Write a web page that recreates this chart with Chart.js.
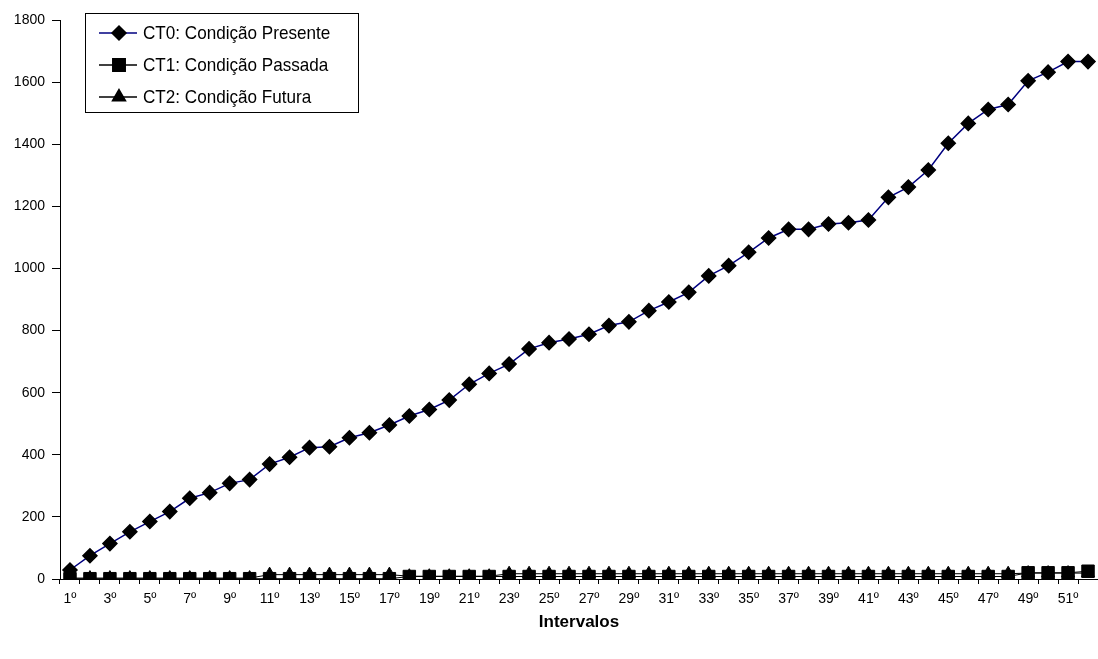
<!DOCTYPE html>
<html>
<head>
<meta charset="utf-8">
<script src="https://cdn.jsdelivr.net/npm/chart.js@4/dist/chart.umd.min.js"></script>
<style>
    html, body { margin: 0; padding: 0; background: #fff; overflow: hidden; }
    #wrap { width: 1098px; height: 659px; }
</style>
</head>
<body>
<div id="wrap"><canvas id="chart"></canvas></div>
<script>
const intervalos = ['1º', '2º', '3º', '4º', '5º', '6º', '7º', '8º', '9º', '10º',
    '11º', '12º', '13º', '14º', '15º', '16º', '17º', '18º', '19º', '20º',
    '21º', '22º', '23º', '24º', '25º', '26º', '27º', '28º', '29º', '30º',
    '31º', '32º', '33º', '34º', '35º', '36º', '37º', '38º', '39º', '40º',
    '41º', '42º', '43º', '44º', '45º', '46º', '47º', '48º', '49º', '50º',
    '51º', '52º'];

// CT0: Condição Presente
const ct0 = [29, 75, 114, 152, 185, 217, 260, 278, 308, 320,
    370, 392, 423, 426, 455, 471, 496, 525, 546, 576,
    627, 662, 692, 741, 761, 773, 788, 816, 828, 864,
    892, 923, 976, 1009, 1052, 1098, 1126, 1126, 1143, 1147,
    1156, 1229, 1262, 1317, 1403, 1467, 1512, 1528, 1604, 1632,
    1666, 1666];

// CT1: Condição Passada
const ct1 = [1, 1, 1, 1, 1, 1, 1, 1, 1, 1,
    1, 1, 1, 1, 1, 1, 1, 8, 8, 8,
    8, 8, 8, 8, 8, 8, 8, 8, 8, 8,
    8, 8, 8, 8, 8, 8, 8, 8, 8, 8,
    8, 8, 8, 8, 8, 8, 8, 8, 20, 20,
    20, 25];

// CT2: Condição Futura
const ct2 = [3, 3, 3, 3, 3, 3, 3, 3, 3, 3,
    14, 14, 14, 14, 14, 14, 14, 9, 9, 9,
    9, 9, 17, 17, 17, 17, 17, 17, 17, 17,
    17, 17, 17, 17, 17, 17, 17, 17, 17, 17,
    17, 17, 17, 17, 17, 17, 17, 17, 19, 19,
    19, 19];

const seriesNames = ['CT0: Condição Presente', 'CT1: Condição Passada', 'CT2: Condição Futura'];
const yTicks = [0, 200, 400, 600, 800, 1000, 1200, 1400, 1600, 1800];

const FONT = "'Liberation Sans', Arial, sans-serif";

// legend drawn inside the plot, boxed, like the original
const boxLegend = {
    id: 'boxLegend',
    afterDraw(chart) {
        const ctx = chart.ctx;
        const x = 85, y = 13, w = 273, h = 99;
        ctx.save();
        ctx.fillStyle = '#fff';
        ctx.fillRect(x, y, w, h);
        ctx.strokeStyle = '#000';
        ctx.lineWidth = 1;
        ctx.strokeRect(x + 0.5, y + 0.5, w, h);

        chart.data.datasets.forEach((ds, i) => {
            const rowY = 33 + i * 32;
            ctx.strokeStyle = ds.borderColor;
            ctx.lineWidth = 1.5;
            ctx.beginPath();
            ctx.moveTo(99, rowY);
            ctx.lineTo(137, rowY);
            ctx.stroke();

            ctx.fillStyle = ds.pointBackgroundColor;
            ctx.strokeStyle = ds.pointBorderColor;
            Chart.helpers.drawPoint(ctx, {
                pointStyle: ds.pointStyle,
                radius: ds.pointRadius,
                rotation: 0,
                borderWidth: 1
            }, 119, rowY);

            ctx.fillStyle = '#000';
            ctx.font = '19px ' + FONT;
            ctx.textBaseline = 'middle';
            ctx.textAlign = 'left';
            ctx.save();
            ctx.translate(143, rowY + 1);
            ctx.scale(0.9, 1);
            ctx.fillText(ds.label, 0, 0);
            ctx.restore();
        });
        ctx.restore();
    }
};

new Chart(document.getElementById('chart'), {
    type: 'line',
    data: {
        labels: intervalos,
        datasets: [
            {
                label: seriesNames[0],
                data: ct0,
                borderColor: '#000080',
                borderWidth: 1.5,
                pointStyle: 'rectRot',
                pointRadius: 7,
                pointBackgroundColor: '#000',
                pointBorderColor: '#000',
                tension: 0
            },
            {
                label: seriesNames[1],
                data: ct1,
                borderColor: '#000',
                borderWidth: 1,
                pointStyle: 'rect',
                pointRadius: 8.8,
                pointBackgroundColor: '#000',
                pointBorderColor: '#000',
                tension: 0
            },
            {
                label: seriesNames[2],
                data: ct2,
                borderColor: '#000',
                borderWidth: 1,
                pointStyle: 'triangle',
                pointRadius: 7.5,
                pointBackgroundColor: '#000',
                pointBorderColor: '#000',
                tension: 0
            }
        ]
    },
    options: {
        responsive: true,
        maintainAspectRatio: false,
        animation: false,
        layout: {
            autoPadding: false,
            padding: { top: 20, right: 0, bottom: 20, left: 0 }
        },
        plugins: {
            legend: { display: false },
            tooltip: { enabled: false }
        },
        scales: {
            x: {
                offset: true,
                grid: {
                    offset: true,
                    drawOnChartArea: false,
                    drawTicks: true,
                    tickLength: 5,
                    color: '#000'
                },
                border: { display: true, color: '#000', width: 1 },
                ticks: {
                    autoSkip: false,
                    maxRotation: 0,
                    minRotation: 0,
                    padding: 7,
                    color: '#000',
                    font: { family: FONT, size: 14 },
                    callback: (v, i) => (i % 2 === 0 ? intervalos[i] : '')
                },
                title: {
                    display: true,
                    text: 'Intervalos',
                    color: '#000',
                    font: { family: FONT, size: 17, weight: 'bold' },
                    padding: { top: 0, bottom: 6 }
                },
                afterFit: (scale) => {
                    scale.height = 60;
                    scale.paddingRight = 0;
                }
            },
            y: {
                min: 0,
                max: 1800,
                afterBuildTicks: (scale) => { scale.ticks = yTicks.map(v => ({ value: v })); },
                grid: {
                    drawOnChartArea: false,
                    drawTicks: true,
                    tickLength: 8,
                    color: '#000'
                },
                border: { display: true, color: '#000', width: 1 },
                ticks: {
                    padding: 7,
                    color: '#000',
                    font: { family: FONT, size: 14 },
                    callback: (v) => String(v)
                },
                afterFit: (scale) => { scale.width = 60; }
            }
        }
    },
    plugins: [boxLegend]
});
</script>
</body>
</html>
